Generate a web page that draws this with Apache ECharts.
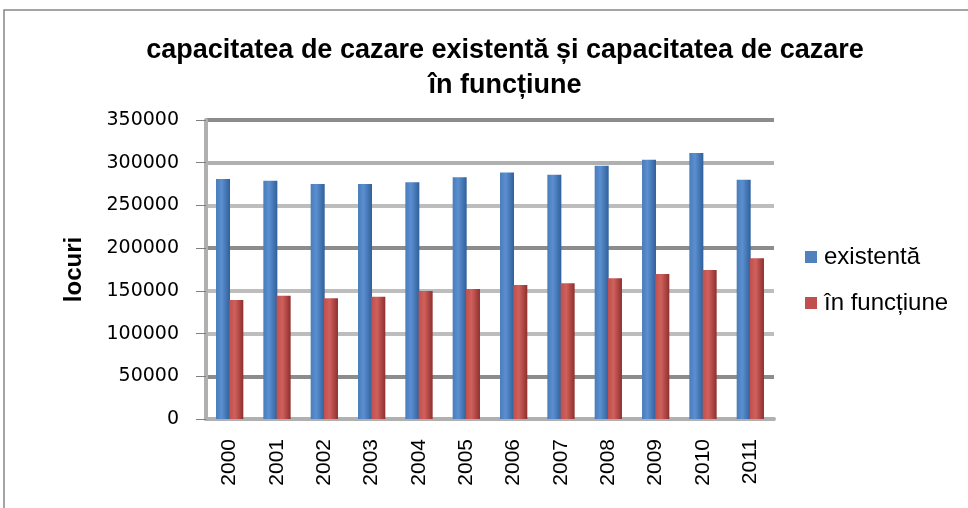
<!DOCTYPE html>
<html>
<head>
<meta charset="utf-8">
<script src="https://cdn.jsdelivr.net/npm/echarts@6/dist/echarts.min.js"></script>
<style>
html,body{margin:0;padding:0;background:#fff;}
#main{width:968px;height:508px;}
</style>
</head>
<body>
<div id="main"></div>
<script>
// date
var ani = ['2000','2001','2002','2003','2004','2005','2006','2007','2008','2009','2010','2011'];
var existenta = [281000, 279000, 275000, 275000, 277000, 283000, 288500, 286000, 296500, 303500, 311500, 280000];
var inFunctiune = [139300, 144400, 141200, 143200, 149900, 152200, 156900, 158800, 164700, 169800, 174500, 188100];
var valoriAxa = [0, 50000, 100000, 150000, 200000, 250000, 300000, 350000];

var chart = echarts.init(document.getElementById('main'));

function cilindru(c1, c2, c3){
	return new echarts.graphic.LinearGradient(0, 0, 1, 0, [
		{offset: 0, color: c1},
		{offset: 0.4, color: c2},
		{offset: 1, color: c3}
	]);
}

var option = {
	animation: false,
	backgroundColor: '#fff',
	textStyle: {fontFamily: 'Liberation Sans'},
	graphic: [{
		type: 'rect',
		shape: {x: 4, y: 10, width: 1000, height: 600},
		style: {fill: 'none', stroke: '#868686', lineWidth: 1.5},
		silent: true
	}],
	title: {
		text: 'capacitatea de cazare existentă și capacitatea de cazare\nîn funcțiune',
		left: 500,
		textAlign: 'center',
		top: 28,
		textStyle: {fontFamily: 'Liberation Sans', fontWeight: 'bold', fontSize: 27, color: '#000', lineHeight: 35}
	},
	legend: {
		orient: 'vertical',
		left: 800,
		top: 240,
		itemWidth: 12,
		itemHeight: 12,
		itemGap: 22,
		icon: 'rect',
		textStyle: {fontSize: 24, color: '#000', fontFamily: 'Liberation Sans', padding: [0, 0, 0, 2]},
		data: [
			{name: 'existentă', itemStyle: {color: '#4f81bd'}},
			{name: 'în funcțiune', itemStyle: {color: '#c0504d'}}
		]
	},
	grid: {left: 206, right: 194, top: 120, bottom: 89},
	xAxis: {
		type: 'category',
		data: ani,
		axisLine: {lineStyle: {color: '#b0b0b0', width: 4}},
		axisTick: {show: false},
		axisLabel: {rotate: 90, color: '#000', fontSize: 21, margin: 20}
	},
	yAxis: {
		type: 'value',
		min: valoriAxa[0],
		max: valoriAxa[valoriAxa.length - 1],
		interval: 50000,
		name: 'locuri',
		nameLocation: 'middle',
		nameGap: 120,
		nameTextStyle: {fontSize: 24, fontWeight: 'bold', color: '#000'},
		axisLine: {show: true, lineStyle: {color: '#b0b0b0', width: 4}},
		axisTick: {show: true, length: 10, lineStyle: {color: '#808080'}},
		axisLabel: {
			color: '#000', fontSize: 19, fontFamily: 'DejaVu Sans', margin: 27,
			padding: [8, 0, 0, 0],
			formatter: function(v){ return String(v); }
		},
		splitLine: {lineStyle: {color: ['#8c8c8c', '#8c8c8c', '#bdbdbd', '#bdbdbd', '#8c8c8c', '#bdbdbd', '#b0b0b0', '#8c8c8c'], width: 4}}
	},
	series: [
		{
			name: 'existentă',
			type: 'bar',
			barWidth: 14,
			barGap: '-5%',
			itemStyle: {color: cilindru('#4a7cba', '#5b8fd0', '#30609a')},
			data: existenta
		},
		{
			name: 'în funcțiune',
			type: 'bar',
			barWidth: 14,
			itemStyle: {color: cilindru('#c0504d', '#d0605c', '#8e302e')},
			data: inFunctiune
		}
	]
};
chart.setOption(option);
</script>
</body>
</html>
